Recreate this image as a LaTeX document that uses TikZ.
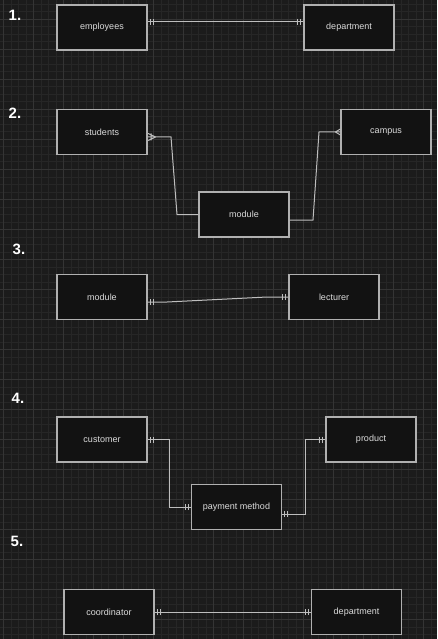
\documentclass[tikz,border=0pt]{standalone}
\usepackage{fontspec}
\setmainfont{Liberation Sans}
\usetikzlibrary{calc}
\definecolor{bgc}{HTML}{1B1B1B}
\definecolor{gridminor}{HTML}{262626}
\definecolor{gridmajor}{HTML}{343434}
\definecolor{boxfill}{HTML}{121212}
\definecolor{boxline}{HTML}{B0B0B0}
\definecolor{txtc}{HTML}{DCDCDC}
\definecolor{connc}{HTML}{BEBEBE}
\begin{document}
\begin{tikzpicture}[x=1pt,y=-1pt,
  entity/.style={draw=boxline,fill=boxfill,line width=1.2pt,minimum width=90pt,minimum height=45pt,inner sep=0pt,text=txtc,font=\fontsize{9}{10}\selectfont},
  conn/.style={draw=connc,line width=1pt},
  numlab/.style={text=white,font=\fontsize{15}{16}\selectfont\bfseries,inner sep=0pt},
  mone/.pic={\draw[conn] (2.5pt,-3pt)--(2.5pt,3pt) (5.5pt,-3pt)--(5.5pt,3pt);},
  onemany/.pic={\draw[conn] (3.5pt,-3.5pt)--(3.5pt,3.5pt) (8pt,0pt)--(0.5pt,-3.5pt) (8pt,0pt)--(0.5pt,3.5pt);},
  manyend/.pic={\draw[conn] (5pt,0pt)--(0pt,-3pt) (5pt,0pt)--(0pt,3pt);}
]
\useasboundingbox (0,0) rectangle (437,639);
\fill[bgc] (0,0) rectangle (437,639);
\begin{scope}
\clip (0,0) rectangle (437,639);
\foreach \k in {0,...,58} {\draw[gridminor,line width=0.6pt] ({3.3+7.5*\k},0) -- ({3.3+7.5*\k},639);}
\foreach \k in {0,...,85} {\draw[gridminor,line width=0.6pt] (0,{4.3+7.5*\k}) -- (437,{4.3+7.5*\k});}
\foreach \k in {0,...,14} {\draw[gridmajor,line width=0.8pt] ({3.3+30*\k},0) -- ({3.3+30*\k},639);}
\foreach \k in {0,...,21} {\draw[gridmajor,line width=0.8pt] (0,{19.3+30*\k}) -- (437,{19.3+30*\k});}
\end{scope}

% labels
\node[numlab] (n1) at (15,15) {1.};
\node[numlab] (n2) at (15,113) {2.};
\node[numlab] (n3) at (19,249) {3.};
\node[numlab] (n4) at (18,398.5) {4.};
\node[numlab] (n5) at (17,541.5) {5.};

% entities
\node[entity] (emp) at (102,27.5) {employees};
\node[entity] (depa) at (349,27.5) {department};
\node[entity] (stud) at (102,132) {students};
\node[entity] (camp) at (386,132) {campus};
\node[entity] (modb) at (244,214.5) {module};
\node[entity] (modc) at (102,297) {module};
\node[entity] (lect) at (334,297) {lecturer};
\node[entity] (cust) at (102,439.5) {customer};
\node[entity] (prod) at (371,439.5) {product};
\node[entity] (pay) at (236.5,507) {payment method};
\node[entity] (coord) at (109,612) {coordinator};
\node[entity] (depe) at (356.5,612) {department};

% 1
\coordinate (e1a) at ($(emp.east)+(0,-5.5)$);
\coordinate (e1b) at ($(depa.west)+(0,-5.5)$);
\draw[conn] (e1a) -- (e1b);
\pic at (e1a) {mone};
\pic[rotate=180] at (e1b) {mone};

% 2
\coordinate (e2a) at ($(stud.east)+(0,5)$);
\draw[conn] (e2a) -- (171,137) -- (177,214.5) -- (modb.west);
\pic at (e2a) {onemany};
\coordinate (e2b) at ($(modb.east)+(0,5.5)$);
\draw[conn] (e2b) -- (313,220) -- (319,132) -- (camp.west);
\pic[rotate=180] at (camp.west) {manyend};

% 3
\coordinate (e3a) at ($(modc.east)+(0,5)$);
\draw[conn] (e3a) -- (167,302) -- (267,297) -- (lect.west);
\pic at (e3a) {mone};
\pic[rotate=180] at (lect.west) {mone};

% 4
\draw[conn] (cust.east) -- (169.5,439.5) -- (169.5,507) -- (pay.west);
\pic at (cust.east) {mone};
\pic[rotate=180] at (pay.west) {mone};
\coordinate (e4b) at ($(pay.east)+(0,7)$);
\draw[conn] (e4b) -- (305,514) -- (305,439.5) -- (prod.west);
\pic at (e4b) {mone};
\pic[rotate=180] at (prod.west) {mone};

% 5
\draw[conn] (coord.east) -- (depe.west);
\pic at (coord.east) {mone};
\pic[rotate=180] at (depe.west) {mone};
\end{tikzpicture}
\end{document}
